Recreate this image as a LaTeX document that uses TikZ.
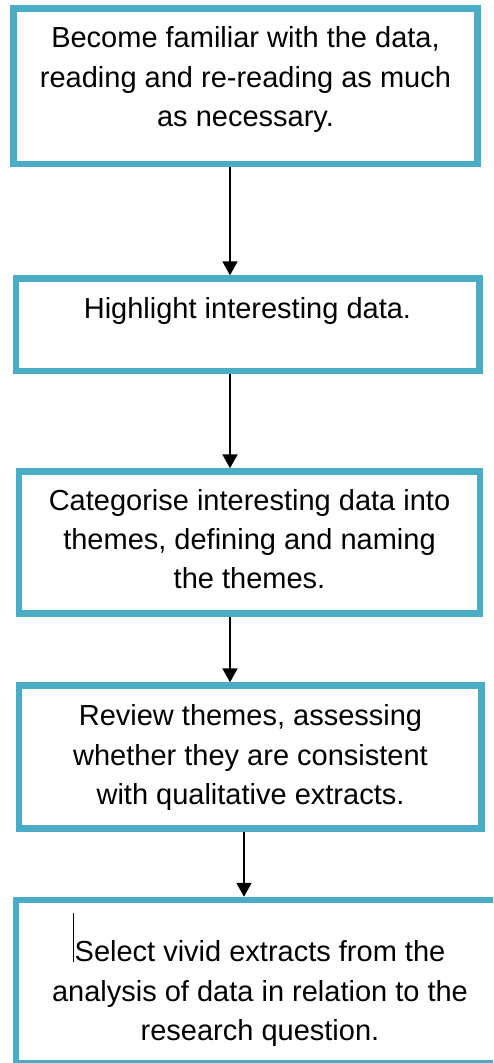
\documentclass[tikz,border=0pt]{standalone}
\usepackage{fontspec}
\setmainfont{Liberation Sans}
\usetikzlibrary{arrows.meta}
\definecolor{boxblue}{RGB}{75,172,198}
\begin{document}
\begin{tikzpicture}[x=1pt,y=-1pt,
  stepbox/.style={draw=boxblue, line width=6.5pt, fill=white, inner sep=0pt, rectangle},
  steptext/.style={align=center, font=\fontsize{29}{39.3}\selectfont, inner sep=0pt},
  arr/.style={draw=black, line width=2pt, -{Triangle[width=15pt,length=14pt]}}]
\useasboundingbox (0,0) rectangle (493,1063);
\clip (0,0) rectangle (493,1063);
% boxes
\node[stepbox, minimum width=464pt, minimum height=155.5pt] (b1) at (245.5,86.25) {};
\node[stepbox, minimum width=463.5pt, minimum height=92.5pt] (b2) at (247.75,324.75) {};
\node[stepbox, minimum width=461pt, minimum height=142pt] (b3) at (249.5,542.5) {};
\node[stepbox, minimum width=462.5pt, minimum height=143pt] (b4) at (250.25,757) {};
\node[stepbox, minimum width=488pt, minimum height=163.5pt] (b5) at (260,981.75) {};
% texts
\node[steptext] (t1) at (245.5,79.5) {Become familiar with the data,\\reading and re-reading as much\\as necessary.};
\node[steptext] (t2) at (247.5,310.5) {Highlight interesting data.};
\node[steptext] (t3) at (249.5,539) {Categorise interesting data into\\themes, defining and naming\\the themes.};
\node[steptext] (t4) at (250.5,757.5) {Review themes, assessing\\whether they are consistent\\with qualitative extracts.};
\node[steptext] (t5) at (260,993.5) {Select vivid extracts from the\\analysis of data in relation to the\\research question.};
% arrow x positions
\coordinate (ax1) at (230,0);
\coordinate (ax2) at (244,0);
\draw[arr] (b1.south -| ax1) -- (b2.north -| ax1);
\draw[arr] (b2.south -| ax1) -- (b3.north -| ax1);
\draw[arr] (b3.south -| ax1) -- (b4.north -| ax1);
\draw[arr] (b4.south -| ax2) -- (b5.north -| ax2);
% text cursor
\coordinate (c1) at (73,913);
\coordinate (c2) at (73,962);
\draw[line width=1pt] (c1) -- (c2);
\end{tikzpicture}
\end{document}
